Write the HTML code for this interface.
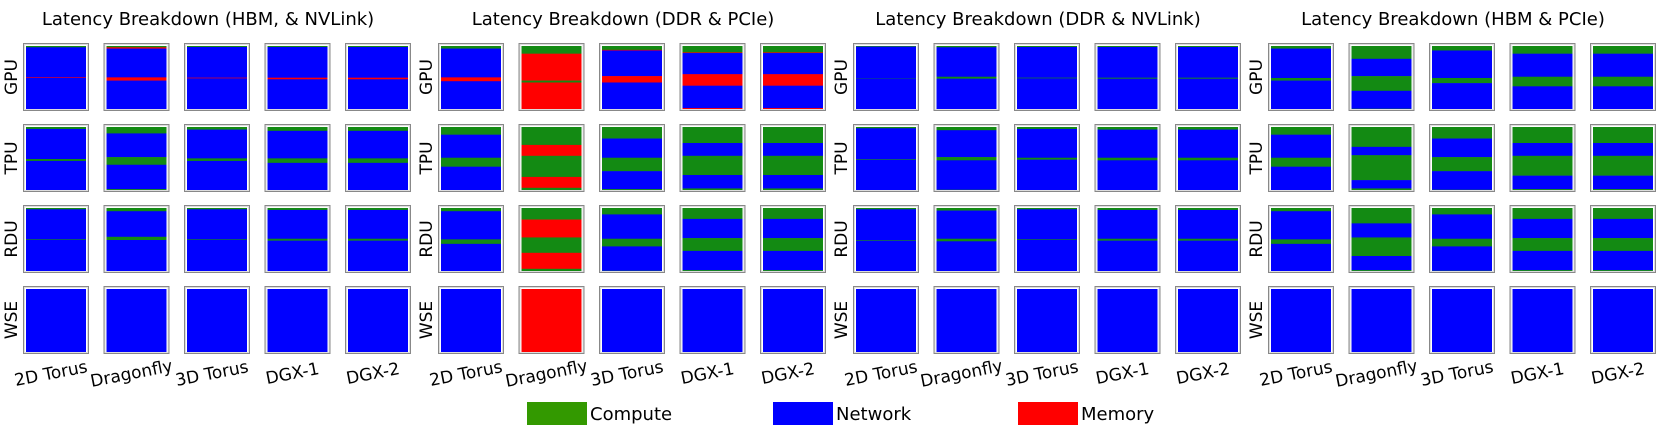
<!DOCTYPE html>
<html><head><meta charset="utf-8"><style>
html,body{margin:0;padding:0;background:#fff}
svg{display:block;font-family:"DejaVu Sans","Liberation Sans",sans-serif}
</style></head><body>
<svg id="chart" width="1661" height="432" viewBox="0 0 1661 432" xmlns="http://www.w3.org/2000/svg"></svg>
<script>
const panelTitles=["Latency Breakdown (HBM, & NVLink)","Latency Breakdown (DDR & PCIe)","Latency Breakdown (DDR & NVLink)","Latency Breakdown (HBM & PCIe)"];
const rowLabels=["GPU","TPU","RDU","WSE"];
const colLabels=["2D Torus","Dragonfly","3D Torus","DGX-1","DGX-2"];
const legendLabels=["Compute","Network","Memory"];
// segments listed top to bottom: type (g=compute,b=network,r=memory) + fraction
const hbmNvlink=[
 [["g.02 b.47 r.01 b.50","g.02 r.02 b.45 r.05 b.45 r.01","g.015 b.48 r.01 b.495","g.015 b.48 r.025 b.48","g.015 b.48 r.025 b.48"],
  ["g.03 b.47 g.03 b.47","g.10 b.37 g.12 b.38 g.03","g.04 b.45 g.04 b.47","g.06 b.43 g.07 b.44","g.06 b.43 g.07 b.44"],
  ["g.02 b.47 g.01 b.50","g.05 b.40 g.05 b.50","g.02 b.47 g.01 b.50","g.03 b.45 g.03 b.49","g.03 b.45 g.03 b.49"],
  ["b1","b1","b1","b1","b1"]]];
const ddrPcie=[
 [["g.04 b.45 r.06 b.45","g.12 r.42 g.03 r.43","g.06 r.01 b.40 r.10 b.42 r.01","g.10 r.01 b.33 r.18 b.35 r.03","g.10 r.01 b.33 r.18 b.35 r.03"],
  ["g.12 b.36 g.14 b.37 g.01","g.28 r.17 g.33 r.17 g.05","g.18 b.30 g.21 b.28 g.03","g.25 b.20 g.30 b.21 g.04","g.25 b.20 g.30 b.21 g.04"],
  ["g.05 b.44 g.07 b.44","g.18 r.28 g.24 r.25 g.05","g.10 b.38 g.12 b.38 g.02","g.17 b.30 g.20 b.30 g.03","g.17 b.30 g.20 b.30 g.03"],
  ["b1","r1","b1","b1","b1"]]];
const ddrNvlink=[
 [["g.01 b.49 g.005 b.495","g.02 b.46 g.03 b.49","g.015 b.48 g.01 b.495","g.015 b.48 g.015 b.49","g.015 b.48 g.015 b.49"],
  ["g.02 b.48 g.01 b.49","g.05 b.42 g.05 b.46 g.02","g.03 b.45 g.03 b.49","g.04 b.44 g.04 b.48","g.04 b.44 g.04 b.48"],
  ["g.02 b.48 g.01 b.49","g.04 b.44 g.04 b.48","g.02 b.47 g.01 b.50","g.03 b.45 g.03 b.49","g.03 b.45 g.03 b.49"],
  ["b1","b1","b1","b1","b1"]]];
const hbmPcie=[
 [["g.04 b.46 g.04 b.46","g.20 b.27 g.23 b.28 g.02","g.07 b.43 g.08 b.42","g.12 b.36 g.15 b.36 g.01","g.12 b.36 g.15 b.36 g.01"],
  ["g.12 b.36 g.14 b.37 g.01","g.31 b.13 g.39 b.13 g.04","g.18 b.29 g.22 b.29 g.02","g.25 b.20 g.31 b.21 g.03","g.25 b.20 g.31 b.21 g.03"],
  ["g.05 b.44 g.07 b.44","g.24 b.22 g.29 b.22 g.03","g.10 b.38 g.12 b.38 g.02","g.17 b.30 g.20 b.30 g.03","g.17 b.30 g.20 b.30 g.03"],
  ["b1","b1","b1","b1","b1"]]];
const panels=[hbmNvlink[0],ddrPcie[0],ddrNvlink[0],hbmPcie[0]];

const NS="http://www.w3.org/2000/svg";
const svg=document.getElementById('chart');
const colors={g:"#138a13",b:"#0000ff",r:"#ff0000"};
const legendColors=["#339900","#0000ff","#ff0000"];
function mk(tag,attrs,parent){const e=document.createElementNS(NS,tag);for(const k in attrs)e.setAttribute(k,attrs[k]);(parent||svg).appendChild(e);return e;}
function px(p,c){return 23+p*415+c*80.5;}
function py(r){return 43+r*81;}
const BW=66,BH=68;
panels.forEach((pd,p)=>{
  const g=mk('g',{});
  
  
  const t=mk('text',{x:208+p*415,y:25,'text-anchor':'middle','font-size':18,fill:'#000'},g);
  
  
  t.textContent=panelTitles[p];
  rowLabels.forEach((rl,r)=>{
    const cy=py(r)+BH/2;
    const lt=mk('text',{x:0,y:0,'text-anchor':'middle','font-size':17,fill:'#000',transform:`translate(${17+p*415},${cy}) rotate(-90)`},g);
    
    
    lt.textContent=rl;
    colLabels.forEach((cl,c)=>{
      const x=px(p,c),y=py(r);
      const cell=mk('g',{},g);
      
      
      const ix=x+3,iw=BW-6,itop=y+3,ih=BH-4;
      let cur=itop;
      pd[r][c].split(' ').forEach(s=>{
        const typ=s[0],v=parseFloat(s.slice(1));
        const h=v*ih;
        const seg=mk('rect',{x:ix,y:cur,width:iw,height:h+0.3,fill:colors[typ]},cell);
        
        
        cur+=h;
      });
      mk('rect',{x:x+1.5,y:y+1.5,width:BW-3,height:BH-3,fill:'none',stroke:'#ddd','stroke-width':1},cell);
      mk('rect',{x:x+0.5,y:y+0.5,width:BW-1,height:BH-1,fill:'none',stroke:'#888','stroke-width':1},cell);
    });
  });
  colLabels.forEach((cl,c)=>{
    const cx=px(p,c)+BW/2;
    const ct=mk('text',{x:0,y:0,'text-anchor':'middle','font-size':17,fill:'#000',transform:`translate(${cx-4},${379}) rotate(-11)`},g);
    
    
    ct.textContent=cl;
  });
});
const lx=[527,773,1018];
legendLabels.forEach((l,i)=>{
  const lg=mk('g',{});
  
  
  mk('rect',{x:lx[i],y:402,width:60,height:23,fill:legendColors[i]},lg);
  const tt=mk('text',{x:lx[i]+63,y:420,'font-size':18,fill:'#000'},lg);
  tt.textContent=l;
});
</script>
</body></html>
